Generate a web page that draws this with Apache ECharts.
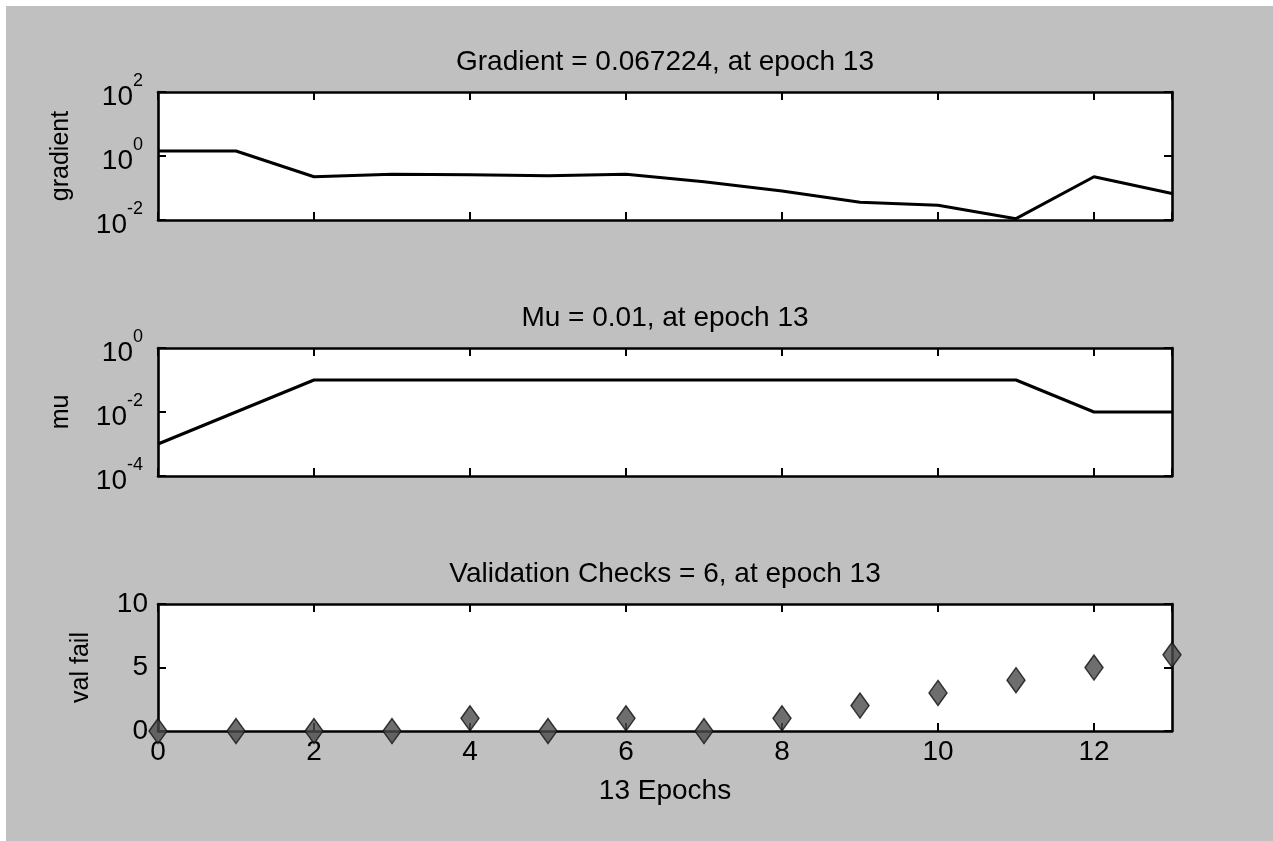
<!DOCTYPE html>
<html>
<head>
<meta charset="utf-8">
<script src="https://cdn.jsdelivr.net/npm/echarts@6/dist/echarts.min.js"></script>
<style>
  html, body { margin: 0; padding: 0; background: #ffffff; }
  #chart { position: absolute; left: 6px; top: 6px; width: 1267px; height: 835px; background: #c0c0c0; }
</style>
</head>
<body>
<div id="chart"></div>
<script>
// Training-state record: one entry per epoch
const epochs         = [0, 1, 2, 3, 4, 5, 6, 7, 8, 9, 10, 11, 12, 13];
const gradientValues = [1.43, 1.43, 0.225, 0.268, 0.26, 0.24, 0.27, 0.157, 0.081, 0.036, 0.029, 0.011, 0.224, 0.067224];
const muValues       = [0.001, 0.01, 0.1, 0.1, 0.1, 0.1, 0.1, 0.1, 0.1, 0.1, 0.1, 0.1, 0.01, 0.01];
const valFailValues  = [0, 0, 0, 0, 1, 0, 1, 0, 1, 2, 3, 4, 5, 6];

const panelTitles = [
  'Gradient = 0.067224, at epoch 13',
  'Mu = 0.01, at epoch 13',
  'Validation Checks = 6, at epoch 13'
];
const yNames = ['gradient', 'mu', 'val fail'];
const xName = '13 Epochs';
const epochTickStep = 2;
const gradientRange = [0.01, 100];
const muRange = [0.0001, 1];
const valFailRange = [0, 10, 5];

const pairs = vals => epochs.map((e, i) => [e, vals[i]]);

const FONT = '"Liberation Sans", Arial, Helvetica, sans-serif';
const INK = '#000000';
const TXT = 28;
const BOX = { left: 152, width: 1014 };
const grids = [
  { top: 86, height: 128 },
  { top: 342, height: 128 },
  { top: 598, height: 127 }
];

const tickStyle = { show: true, inside: true, length: 8, lineStyle: { color: INK, width: 2 } };
const lineStyleAxis = { show: true, onZero: false, lineStyle: { color: INK, width: 2.6 } };

// "10" with the decade exponent set as a superscript
const powLabel = v => '{b|10}{e|' + Math.round(Math.log10(v)) + '}';
const powRich = {
  b: { fontSize: TXT, fontFamily: FONT, color: INK, padding: [11, 0, 0, 0] },
  e: { fontSize: 18, fontFamily: FONT, color: INK, verticalAlign: 'top' }
};

function xAxes(gi, withLabels) {
  const base = { type: 'value', gridIndex: gi, min: 0, max: 13, interval: epochTickStep,
                 axisLine: lineStyleAxis, axisTick: tickStyle, splitLine: { show: false } };
  return [
    Object.assign({}, base, {
      position: 'bottom',
      axisLabel: withLabels
        ? { show: true, fontSize: TXT, fontFamily: FONT, color: INK, margin: 7, showMaxLabel: false }
        : { show: false },
      name: withLabels ? xName : '',
      nameLocation: 'middle', nameGap: 46,
      nameTextStyle: { fontSize: TXT, fontFamily: FONT, color: INK }
    }),
    Object.assign({}, base, { position: 'top', axisLabel: { show: false } })
  ];
}

function yAxes(gi, cfg) {
  const base = Object.assign({ gridIndex: gi, axisLine: lineStyleAxis, axisTick: tickStyle,
                               splitLine: { show: false } }, cfg.scale);
  return [
    Object.assign({}, base, {
      position: 'left',
      axisLabel: Object.assign({ show: true, fontSize: TXT, fontFamily: FONT, color: INK, margin: cfg.margin }, cfg.label),
      name: yNames[gi], nameLocation: 'middle', nameGap: cfg.nameGap, nameRotate: 90,
      nameTextStyle: { fontSize: 25, fontFamily: FONT, color: INK }
    }),
    Object.assign({}, base, { position: 'right', axisLabel: { show: false } })
  ];
}

const option = {
  animation: false,
  backgroundColor: '#c0c0c0',
  title: panelTitles.map((t, i) => ({
    text: t, left: BOX.left + BOX.width / 2, top: grids[i].top - 44, textAlign: 'center',
    padding: 0,
    textStyle: { fontSize: TXT, fontWeight: 'normal', fontFamily: FONT, color: INK }
  })),
  grid: grids.map(g => ({ left: BOX.left, width: BOX.width, top: g.top, height: g.height,
                          show: true, backgroundColor: '#ffffff', borderWidth: 0 })),
  xAxis: [].concat(xAxes(0, false), xAxes(1, false), xAxes(2, true)),
  yAxis: [].concat(
    yAxes(0, { scale: { type: 'log', logBase: 100, min: gradientRange[0], max: gradientRange[1] },
               label: { formatter: powLabel, rich: powRich }, margin: 15, nameGap: 84 }),
    yAxes(1, { scale: { type: 'log', logBase: 100, min: muRange[0], max: muRange[1] },
               label: { formatter: powLabel, rich: powRich }, margin: 15, nameGap: 84 }),
    yAxes(2, { scale: { type: 'value', min: valFailRange[0], max: valFailRange[1], interval: valFailRange[2] },
               label: {}, margin: 10, nameGap: 64 })
  ),
  series: [
    { type: 'line', xAxisIndex: 0, yAxisIndex: 0, data: pairs(gradientValues), showSymbol: false,
      lineStyle: { color: INK, width: 3 }, z: 5 },
    { type: 'line', xAxisIndex: 2, yAxisIndex: 2, data: pairs(muValues), showSymbol: false,
      lineStyle: { color: INK, width: 3 }, z: 5 },
    { type: 'scatter', xAxisIndex: 4, yAxisIndex: 4, data: pairs(valFailValues), clip: false,
      symbol: 'diamond', symbolSize: [18, 25],
      itemStyle: { color: '#4a4a4a', borderColor: '#111111', borderWidth: 1.5 }, z: 10 }
  ]
};

const chart = echarts.init(document.getElementById('chart'), null, { renderer: 'canvas' });
chart.setOption(option);
</script>
</body>
</html>
